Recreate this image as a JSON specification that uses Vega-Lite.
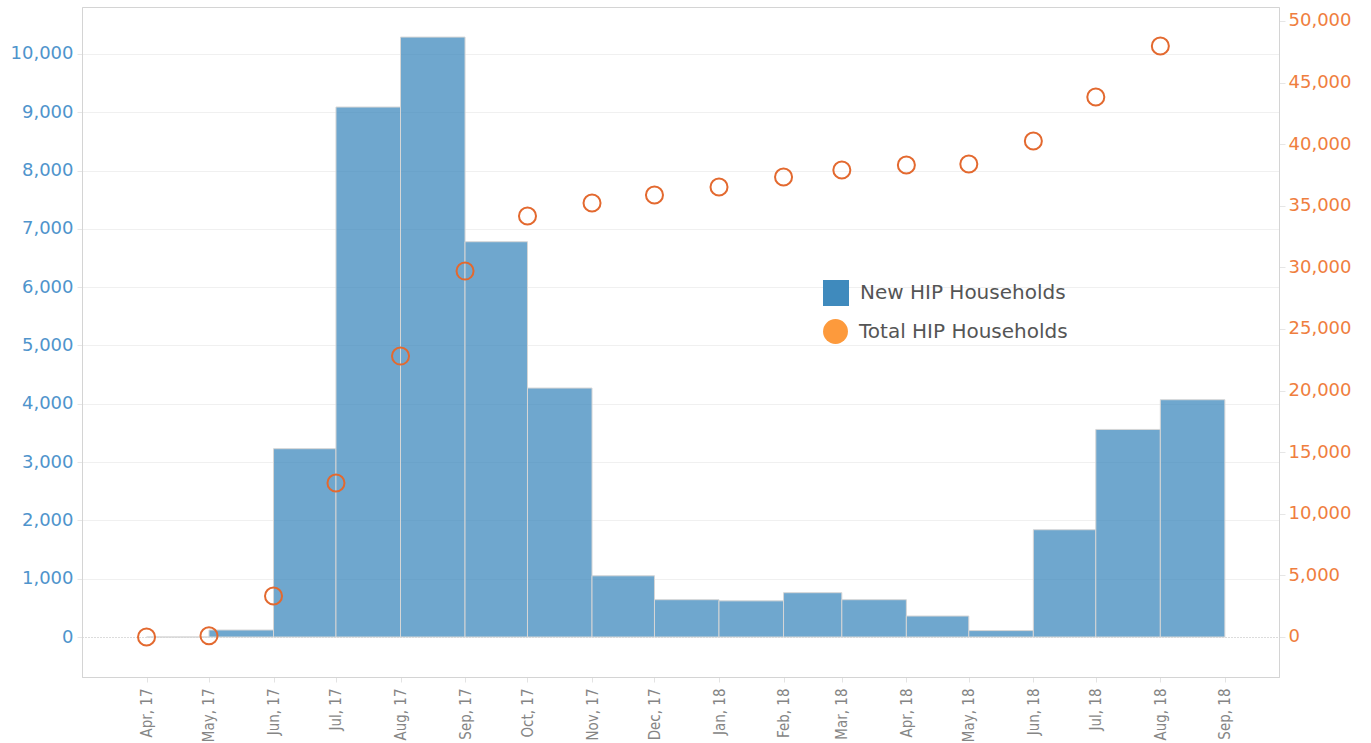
{
  "$schema": "https://vega.github.io/schema/vega-lite/v6.json",
  "width": 1197,
  "height": 670,
  "autosize": "none",
  "padding": {"left": 82, "top": 7, "right": 92, "bottom": 66},
  "background": "white",
  "config": {
    "view": {"stroke": "#d4d4d4", "strokeWidth": 1},
    "axis": {"domainColor": "#d4d4d4", "tickColor": "#d4d4d4"},
    "legend": {
      "orient": "none",
      "padding": 0,
      "labelFont": "DejaVu Sans",
      "labelFontSize": 20,
      "labelLimit": 0,
      "labelColor": "#555555",
      "labelOffset": 11,
      "symbolOpacity": 1
    }
  },
  "data": {
    "values": [
      {"month": "2017-04-01T00:00:00", "next": "2017-05-01T00:00:00", "new": 0, "total": 0},
      {"month": "2017-05-01T00:00:00", "next": "2017-06-01T00:00:00", "new": 120, "total": 100},
      {"month": "2017-06-01T00:00:00", "next": "2017-07-01T00:00:00", "new": 3230, "total": 3330},
      {"month": "2017-07-01T00:00:00", "next": "2017-08-01T00:00:00", "new": 9090, "total": 12500},
      {"month": "2017-08-01T00:00:00", "next": "2017-09-01T00:00:00", "new": 10290, "total": 22800},
      {"month": "2017-09-01T00:00:00", "next": "2017-10-01T00:00:00", "new": 6780, "total": 29700},
      {"month": "2017-10-01T00:00:00", "next": "2017-11-01T00:00:00", "new": 4270, "total": 34170},
      {"month": "2017-11-01T00:00:00", "next": "2017-12-01T00:00:00", "new": 1050, "total": 35230},
      {"month": "2017-12-01T00:00:00", "next": "2018-01-01T00:00:00", "new": 640, "total": 35880},
      {"month": "2018-01-01T00:00:00", "next": "2018-02-01T00:00:00", "new": 620, "total": 36530},
      {"month": "2018-02-01T00:00:00", "next": "2018-03-01T00:00:00", "new": 760, "total": 37340},
      {"month": "2018-03-01T00:00:00", "next": "2018-04-01T00:00:00", "new": 640, "total": 37910},
      {"month": "2018-04-01T00:00:00", "next": "2018-05-01T00:00:00", "new": 360, "total": 38310},
      {"month": "2018-05-01T00:00:00", "next": "2018-06-01T00:00:00", "new": 110, "total": 38390},
      {"month": "2018-06-01T00:00:00", "next": "2018-07-01T00:00:00", "new": 1840, "total": 40260},
      {"month": "2018-07-01T00:00:00", "next": "2018-08-01T00:00:00", "new": 3560, "total": 43830},
      {"month": "2018-08-01T00:00:00", "next": "2018-09-01T00:00:00", "new": 4070, "total": 47970}
    ]
  },
  "encoding": {
    "x": {
      "field": "month",
      "type": "temporal",
      "title": null,
      "scale": {"domain": [{"year": 2017, "month": 3, "date": 1}, {"year": 2018, "month": 9, "date": 27}], "padding": 0},
      "axis": {
        "format": "%b, %y",
        "values": [
          {"year": 2017, "month": 4, "date": 1}, {"year": 2017, "month": 5, "date": 1}, {"year": 2017, "month": 6, "date": 1},
          {"year": 2017, "month": 7, "date": 1}, {"year": 2017, "month": 8, "date": 1}, {"year": 2017, "month": 9, "date": 1},
          {"year": 2017, "month": 10, "date": 1}, {"year": 2017, "month": 11, "date": 1}, {"year": 2017, "month": 12, "date": 1},
          {"year": 2018, "month": 1, "date": 1}, {"year": 2018, "month": 2, "date": 1}, {"year": 2018, "month": 3, "date": 1},
          {"year": 2018, "month": 4, "date": 1}, {"year": 2018, "month": 5, "date": 1}, {"year": 2018, "month": 6, "date": 1},
          {"year": 2018, "month": 7, "date": 1}, {"year": 2018, "month": 8, "date": 1}, {"year": 2018, "month": 9, "date": 1}
        ],
        "labelAngle": 270,
        "labelAlign": "right",
        "labelBaseline": "middle",
        "labelColor": "#858585",
        "labelFont": "DejaVu Sans Condensed, Liberation Sans",
        "labelFontSize": 15,
        "labelPadding": 6,
        "tickSize": 5,
        "tickColor": "#e3e3e3",
        "grid": false,
        "labelOverlap": false,
        "labelFlush": false
      }
    }
  },
  "layer": [
    {
      "mark": {"type": "bar", "fillOpacity": 0.75, "stroke": "#d6d6d6", "strokeWidth": 1},
      "encoding": {
        "x2": {"field": "next"},
        "y": {
          "field": "new",
          "type": "quantitative",
          "title": null,
          "scale": {"domain": [-686, 10806], "nice": false, "zero": false, "padding": 0},
          "axis": {
            "orient": "left",
            "values": [0, 1000, 2000, 3000, 4000, 5000, 6000, 7000, 8000, 9000, 10000],
            "format": ",d",
            "labelColor": "#4f94cc",
            "labelFont": "DejaVu Sans",
            "labelFontSize": 18,
            "labelPadding": 4,
            "tickSize": 5,
            "tickColor": "#e6e6e6",
            "grid": true,
            "gridColor": {"condition": {"test": "datum.value === 0", "value": "#b8b8b8"}, "value": "#f0f0f0"},
            "gridDash": {"condition": {"test": "datum.value === 0", "value": [1, 2]}, "value": []}
          }
        },
        "y2": {"datum": 0},
        "color": {
          "datum": "New HIP Households",
          "type": "nominal",
          "scale": {"domain": ["New HIP Households"], "range": ["#3f8abd"]},
          "legend": {
            "title": null,
            "legendX": 741,
            "legendY": 273,
            "symbolType": "square",
            "symbolSize": 676,
            "symbolStrokeWidth": 0
          }
        }
      }
    },
    {
      "mark": {"type": "point", "filled": false, "stroke": "#e3692f", "strokeWidth": 2, "size": 290, "opacity": 1},
      "encoding": {
        "y": {
          "field": "total",
          "type": "quantitative",
          "title": null,
          "scale": {"domain": [-3247, 51136], "nice": false, "zero": false, "padding": 0},
          "axis": {
            "orient": "right",
            "values": [0, 5000, 10000, 15000, 20000, 25000, 30000, 35000, 40000, 45000, 50000],
            "format": ",d",
            "labelColor": "#ef7e3e",
            "labelFont": "DejaVu Sans",
            "labelFontSize": 18,
            "labelPadding": 3,
            "tickSize": 6,
            "tickColor": "#e6e6e6",
            "grid": false
          }
        }
      }
    },
    {
      "mark": {"type": "point", "filled": true, "opacity": 0, "size": 1},
      "encoding": {
        "color": {
          "datum": "Total HIP Households",
          "type": "nominal",
          "scale": {"domain": ["Total HIP Households"], "range": ["#fd9a3c"]},
          "legend": {
            "title": null,
            "legendX": 741,
            "legendY": 312,
            "symbolType": "circle",
            "symbolSize": 620,
            "symbolStrokeWidth": 0
          }
        }
      }
    }
  ],
  "resolve": {"scale": {"y": "independent", "color": "independent"}, "legend": {"color": "independent"}}
}
